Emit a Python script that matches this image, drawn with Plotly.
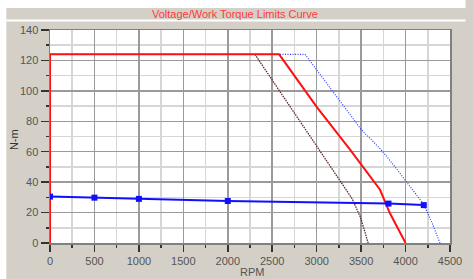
import plotly.graph_objects as go

# ---- data ----
red_rpm = [0, 0, 2578, 3000, 3380, 3460, 3713, 3823, 3910, 4000]
red_nm = [0, 124, 124, 89.5, 61, 54.6, 35, 19.7, 10, 0]

blue_dot_rpm = [0, 2869, 3495, 3713, 3815, 4005, 4205, 4300, 4387]
blue_dot_nm = [124, 124, 75, 62, 55, 40.8, 25.4, 13, 0]

brown_rpm = [2305, 3015, 3088, 3277, 3400, 3495, 3540, 3579]
brown_nm = [124, 62, 56, 39.7, 29, 16.6, 8, 0]

pts_rpm = [0, 500, 1000, 2000, 3808, 4205]
pts_nm = [30.5, 29.8, 29.0, 27.6, 25.9, 24.9]

title_text = "Voltage/Work Torque Limits Curve"
x_title = "RPM"
y_title = "N-m"

# ---- figure ----
W, H = 473, 279
L, R, T, B = 50, 462, 30, 243


def px(x):
    return (x - L) / (R - L)


def py(y):
    return (B - y) / (B - T)


fig = go.Figure()
fig.add_trace(go.Scatter(x=blue_dot_rpm, y=blue_dot_nm, mode="lines",
                         line=dict(color="#2a3cff", width=1.2, dash="1px,1.5px"),
                         hoverinfo="skip"))
fig.add_trace(go.Scatter(x=brown_rpm, y=brown_nm, mode="lines",
                         line=dict(color="#5e2626", width=1.3, dash="1.5px,1px"),
                         hoverinfo="skip"))
fig.add_trace(go.Scatter(x=red_rpm, y=red_nm, mode="lines",
                         line=dict(color="#ff1010", width=2),
                         hoverinfo="skip"))
fig.add_trace(go.Scatter(x=pts_rpm, y=pts_nm, mode="lines+markers",
                         line=dict(color="#1010ff", width=2),
                         marker=dict(symbol="square", size=6, color="#1010ff"),
                         hoverinfo="skip"))

font = "Liberation Sans, Arial, sans-serif"
fig.update_layout(
    width=W, height=H,
    margin=dict(l=L, r=W - R, t=T, b=H - B, pad=0),
    paper_bgcolor="#d4d0c8",
    plot_bgcolor="white",
    showlegend=False,
    font=dict(family=font, size=11, color="#555555"),
    xaxis=dict(range=[0, 4500], dtick=500, tick0=0,
               showgrid=True, gridcolor="#9a9a9a", gridwidth=1.5,
               ticks="outside", ticklen=7, tickcolor="#333333", tickwidth=1.5,
               showline=True, linecolor="#808080", linewidth=1.5, mirror=True,
               zeroline=False,
               minor=dict(dtick=250, showgrid=True, gridcolor="#d6d6d6", gridwidth=1.5,
                          ticks="outside", ticklen=3, tickcolor="#333333", tickwidth=1.5),
               tickfont=dict(size=11, color="#555555")),
    yaxis=dict(range=[0, 140], dtick=20, tick0=0,
               showgrid=True, gridcolor="#9a9a9a", gridwidth=1.5,
               ticks="outside", ticklen=8, tickcolor="#333333", tickwidth=1.5,
               showline=True, linecolor="#808080", linewidth=1.5, mirror=True,
               zeroline=False,
               minor=dict(dtick=10, showgrid=True, gridcolor="#d6d6d6", gridwidth=1.5,
                          ticks="outside", ticklen=3, tickcolor="#333333", tickwidth=1.5),
               tickfont=dict(size=11, color="#555555")),
    shapes=[
        # white strip at top
        dict(type="rect", xref="paper", yref="paper", x0=px(-5), x1=px(W + 5),
             y0=py(8), y1=py(-5), fillcolor="white", line=dict(width=0), layer="below"),
        # white strip at left
        dict(type="rect", xref="paper", yref="paper", x0=px(-5), x1=px(5),
             y0=py(H + 5), y1=py(-5), fillcolor="white", line=dict(width=0), layer="below"),
        # white separator line under title bar
        dict(type="rect", xref="paper", yref="paper", x0=px(5), x1=px(W + 5),
             y0=py(21.5), y1=py(19.5), fillcolor="white", line=dict(width=0), layer="below"),
    ],
    annotations=[
        dict(text=title_text, xref="paper", yref="paper", x=px(241), y=py(14),
             xanchor="center", yanchor="middle", showarrow=False,
             font=dict(family=font, size=11, color="#ff3b3b")),
        dict(text=x_title, xref="paper", yref="paper", x=px(258), y=py(272),
             xanchor="center", yanchor="middle", showarrow=False,
             font=dict(family=font, size=11, color="#555555")),
        dict(text=y_title, xref="paper", yref="paper", x=px(13), y=py(140),
             xanchor="center", yanchor="middle", showarrow=False, textangle=-90,
             font=dict(family=font, size=11, color="#333333")),
    ],
)

fig.write_html("out.html",
               config={"displayModeBar": False, "staticPlot": True},
               post_script="document.body.style.margin='0';document.body.style.overflow='hidden';")
